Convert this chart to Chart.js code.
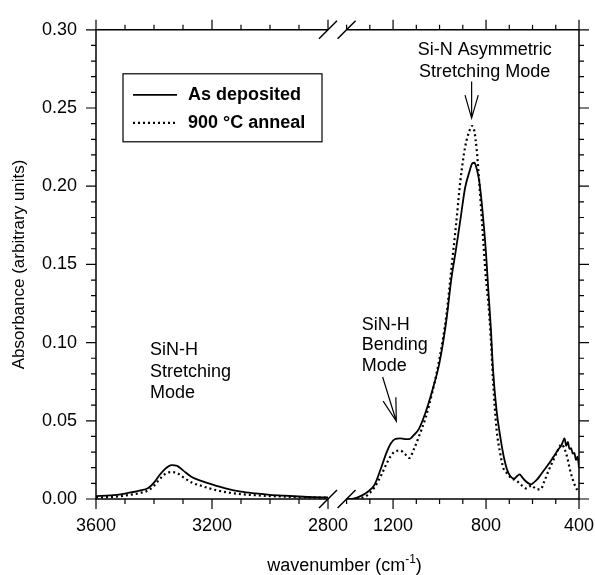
<!DOCTYPE html>
<html>
<head>
<meta charset="utf-8">
<script src="https://cdn.jsdelivr.net/npm/chart.js@4.4.0/dist/chart.umd.min.js"></script>
<style>
  html, body { margin: 0; padding: 0; background: #fff; }
  #wrap { width: 595px; height: 575px; }
</style>
</head>
<body>
<div id="wrap"><canvas id="ftir"></canvas></div>
<script>
// high wavenumber half of the broken axis (SiN-H stretching region)
var wnHigh = [3600, 3550, 3500, 3450, 3420, 3400, 3380, 3360, 3340, 3320, 3300,
  3270, 3240, 3200, 3150, 3100, 3050, 3000, 2950, 2900, 2850, 2800];
var absDepHigh = [0.0019, 0.0023, 0.0035, 0.0053, 0.0070, 0.0105, 0.0155, 0.0195, 0.0217, 0.0212, 0.0183,
  0.0141, 0.0118, 0.0093, 0.0066, 0.0047, 0.0036, 0.0027, 0.0021, 0.0016, 0.0012, 0.0010];
var absAnnHigh = [0.0010, 0.0013, 0.0022, 0.0038, 0.0055, 0.0085, 0.0128, 0.0162, 0.0172, 0.0165, 0.0140,
  0.0105, 0.0086, 0.0063, 0.0043, 0.0031, 0.0024, 0.0019, 0.0015, 0.0012, 0.0010, 0.0008];

// low wavenumber half (bending + Si-N stretching)
var wnLow = [1400, 1370, 1340, 1310, 1280, 1250, 1230, 1210, 1190, 1170, 1150, 1130, 1110, 1090,
  1060, 1030, 1000, 970, 950, 930, 910, 890, 870, 860, 850, 840, 830, 815, 800, 790, 780, 770,
  755, 740, 725, 710, 695, 680, 665, 655, 645, 630, 615, 605, 595, 580, 565, 550, 530, 510, 490,
  475, 462, 455, 448, 441, 434, 427, 420, 413, 406, 400];
var absDepLow = [0.0000, 0.0003, 0.0018, 0.0045, 0.0090, 0.0205, 0.0290, 0.0355, 0.0385, 0.0388, 0.0383, 0.0383, 0.0410, 0.0445,
  0.0555, 0.0700, 0.0874, 0.1150, 0.1400, 0.1590, 0.1790, 0.1990, 0.2100, 0.2145, 0.2150, 0.2110, 0.2040, 0.1840, 0.1570, 0.1330, 0.1110, 0.0830,
  0.0570, 0.0410, 0.0280, 0.0190, 0.0145, 0.0130, 0.0148, 0.0157, 0.0140, 0.0115, 0.0098, 0.0094, 0.0105, 0.0125, 0.0155, 0.0185, 0.0225, 0.0270, 0.0315,
  0.0345, 0.0388, 0.0340, 0.0365, 0.0320, 0.0325, 0.0290, 0.0295, 0.0250, 0.0270, 0.0200];
var absAnnLow = [0.0000, 0.0000, 0.0006, 0.0025, 0.0075, 0.0155, 0.0220, 0.0275, 0.0305, 0.0310, 0.0290, 0.0262, 0.0320, 0.0395,
  0.0520, 0.0690, 0.0900, 0.1180, 0.1460, 0.1740, 0.2040, 0.2250, 0.2360, 0.2385, 0.2350, 0.2230, 0.2040, 0.1720, 0.1400, 0.1250, 0.1040, 0.0760,
  0.0450, 0.0300, 0.0195, 0.0165, 0.0137, 0.0125, 0.0112, 0.0098, 0.0085, 0.0068, 0.0078, 0.0088, 0.0076, 0.0062, 0.0062, 0.0110, 0.0185, 0.0250, 0.0315,
  0.0350, 0.0320, 0.0290, 0.0250, 0.0200, 0.0160, 0.0125, 0.0095, 0.0072, 0.0055, 0.0042];

var seriesNames = ["As deposited", "900 \u00B0C anneal"];
var xHighLabels = [3600, 3200, 2800];
var xLowLabels = [1200, 800, 400];
var yLabels = [0, 0.05, 0.10, 0.15, 0.20, 0.25, 0.30];

var FONT = '"Liberation Sans", Arial, Helvetica, sans-serif';

function pts(xs, ys) {
  return xs.map(function(x, i) { return { x: x, y: ys[i] }; });
}

function everyHundred(from, to) {
  var out = [];
  for (var v = from; v >= to; v -= 100) out.push({ value: v });
  return out;
}

function drawArrow(ctx, x0, y0, x1, y1) {
  var ang = Math.atan2(y1 - y0, x1 - x0), head = 24, spread = 0.28;
  ctx.beginPath();
  ctx.moveTo(x0, y0);
  ctx.lineTo(x1, y1);
  ctx.moveTo(x1 - head * Math.cos(ang - spread), y1 - head * Math.sin(ang - spread));
  ctx.lineTo(x1, y1);
  ctx.lineTo(x1 - head * Math.cos(ang + spread), y1 - head * Math.sin(ang + spread));
  ctx.stroke();
}

var decorations = {
  id: "decorations",
  afterDraw: function(chart) {
    var ctx = chart.ctx, a = chart.chartArea;
    var xh = chart.scales.xHigh, xl = chart.scales.xLow, y = chart.scales.y;
    var cutL = xh.getPixelForValue(2800), cutR = xl.getPixelForValue(1400);
    ctx.save();
    ctx.strokeStyle = "#000";
    ctx.fillStyle = "#000";
    ctx.setLineDash([]);

    // frame with the axis break
    ctx.lineWidth = 1.5;
    ctx.beginPath();
    ctx.moveTo(cutL, a.top); ctx.lineTo(a.left, a.top); ctx.lineTo(a.left, a.bottom); ctx.lineTo(cutL, a.bottom);
    ctx.moveTo(cutR, a.top); ctx.lineTo(a.right, a.top); ctx.lineTo(a.right, a.bottom); ctx.lineTo(cutR, a.bottom);
    [cutL, cutR].forEach(function(x) {
      [a.top, a.bottom].forEach(function(yy) {
        ctx.moveTo(x - 9, yy + 9); ctx.lineTo(x + 9, yy - 9);
      });
    });
    ctx.stroke();

    // outward ticks on all four sides
    ctx.lineWidth = 1.2;
    ctx.beginPath();
    y.ticks.forEach(function(t) {
      var py = y.getPixelForValue(t.value), len = t.label ? 10 : 5;
      ctx.moveTo(a.left, py); ctx.lineTo(a.left - len, py);
      ctx.moveTo(a.right, py); ctx.lineTo(a.right + len, py);
    });
    [xh, xl].forEach(function(s) {
      s.ticks.forEach(function(t) {
        var px = s.getPixelForValue(t.value), len = t.label ? 10 : 5;
        ctx.moveTo(px, a.bottom); ctx.lineTo(px, a.bottom + len);
        ctx.moveTo(px, a.top); ctx.lineTo(px, a.top - len);
      });
    });
    ctx.stroke();

    // legend box
    var lx = a.left + 27, ly = a.top + 44;
    ctx.lineWidth = 1.2;
    ctx.strokeRect(lx, ly, 199, 68);
    ctx.font = "bold 18px " + FONT;
    ctx.textBaseline = "middle";
    ctx.textAlign = "left";
    [0, 1].forEach(function(i) {
      var ds = chart.data.datasets[i], ry = ly + 21 + i * 28;
      ctx.save();
      ctx.lineWidth = ds.borderWidth;
      ctx.setLineDash(ds.borderDash || []);
      ctx.beginPath();
      ctx.moveTo(lx + 10, ry); ctx.lineTo(lx + 54, ry);
      ctx.stroke();
      ctx.restore();
      ctx.fillText(seriesNames[i], lx + 65, ry);
    });

    // annotations
    ctx.font = "18px " + FONT;
    ctx.textAlign = "center";
    ctx.fillText("Si-N Asymmetric", xl.getPixelForValue(806), y.getPixelForValue(0.2868));
    ctx.fillText("Stretching Mode", xl.getPixelForValue(806), y.getPixelForValue(0.2730));
    ctx.textAlign = "left";
    ["SiN-H", "Bending", "Mode"].forEach(function(s, i) {
      ctx.fillText(s, xl.getPixelForValue(1335), y.getPixelForValue(0.1113 - i * 0.0131));
    });
    ["SiN-H", "Stretching", "Mode"].forEach(function(s, i) {
      ctx.fillText(s, xh.getPixelForValue(3414), y.getPixelForValue(0.0950 - i * 0.0136));
    });
    ctx.lineWidth = 1.2;
    drawArrow(ctx, xl.getPixelForValue(862), y.getPixelForValue(0.2670), xl.getPixelForValue(862), y.getPixelForValue(0.2435));
    drawArrow(ctx, xl.getPixelForValue(1245), y.getPixelForValue(0.0780), xl.getPixelForValue(1186), y.getPixelForValue(0.0497));

    // x axis title with superscript
    var main = "wavenumber (cm", sup = "-1", tail = ")";
    ctx.font = "18px " + FONT;
    var w1 = ctx.measureText(main).width, w3 = ctx.measureText(tail).width;
    ctx.font = "12px " + FONT;
    var w2 = ctx.measureText(sup).width;
    var tx = (a.left + a.right) / 2 + 7 - (w1 + w2 + w3) / 2, base = 571;
    ctx.textBaseline = "alphabetic";
    ctx.font = "18px " + FONT;
    ctx.fillText(main, tx, base);
    ctx.font = "12px " + FONT;
    ctx.fillText(sup, tx + w1, base - 8);
    ctx.font = "18px " + FONT;
    ctx.fillText(tail, tx + w1 + w2, base);
    ctx.restore();
  }
};

function xAxis(min, max, firstTick, labels, weight) {
  return {
    type: "linear",
    position: "bottom",
    stack: "wave",
    stackWeight: weight,
    reverse: true,
    min: min,
    max: max,
    grid: { display: false, drawTicks: false },
    border: { display: false },
    afterBuildTicks: function(s) { s.ticks = everyHundred(firstTick, min); },
    afterFit: function(s) { s.height = 76; s.paddingLeft = 0; s.paddingRight = 0; },
    ticks: {
      autoSkip: false,
      maxRotation: 0,
      padding: 16,
      color: "#000",
      font: { family: FONT, size: 18 },
      callback: function(v) { return labels.indexOf(v) >= 0 ? String(v) : ""; }
    }
  };
}

new Chart(document.getElementById("ftir"), {
  type: "line",
  data: {
    datasets: [
      { label: seriesNames[0], data: pts(wnHigh, absDepHigh), xAxisID: "xHigh", borderColor: "#000", borderWidth: 1.8 },
      { label: seriesNames[1], data: pts(wnHigh, absAnnHigh), xAxisID: "xHigh", borderColor: "#000", borderWidth: 2.2, borderDash: [2, 3] },
      { label: seriesNames[0], data: pts(wnLow, absDepLow), xAxisID: "xLow", borderColor: "#000", borderWidth: 1.8 },
      { label: seriesNames[1], data: pts(wnLow, absAnnLow), xAxisID: "xLow", borderColor: "#000", borderWidth: 2.2, borderDash: [2, 3] }
    ]
  },
  options: {
    responsive: true,
    maintainAspectRatio: false,
    animation: false,
    events: [],
    layout: { padding: { top: 22, right: 16, left: 0, bottom: 0 } },
    elements: {
      point: { radius: 0 },
      line: { cubicInterpolationMode: "monotone", fill: false }
    },
    plugins: { legend: { display: false }, tooltip: { enabled: false } },
    scales: {
      xHigh: xAxis(2800, 3600, 3600, xHighLabels, 232),
      xLow: xAxis(400, 1480, 1400, xLowLabels, 251),
      y: {
        type: "linear",
        position: "left",
        min: 0,
        max: 0.3,
        grid: { display: false, drawTicks: false },
        border: { display: false },
        afterBuildTicks: function(s) {
          var t = [];
          for (var k = 0; k <= 30; k++) t.push({ value: k / 100 });
          s.ticks = t;
        },
        afterFit: function(s) { s.width = 96; },
        title: {
          display: true,
          text: "Absorbance (arbitrary units)",
          color: "#000",
          font: { family: FONT, size: 17 },
          padding: { top: 9, bottom: 0 }
        },
        ticks: {
          autoSkip: false,
          padding: 19,
          color: "#000",
          font: { family: FONT, size: 18 },
          callback: function(v) {
            var hit = yLabels.some(function(l) { return Math.abs(l - v) < 1e-6; });
            return hit ? v.toFixed(2) : "";
          }
        }
      }
    }
  },
  plugins: [decorations]
});
</script>
</body>
</html>
